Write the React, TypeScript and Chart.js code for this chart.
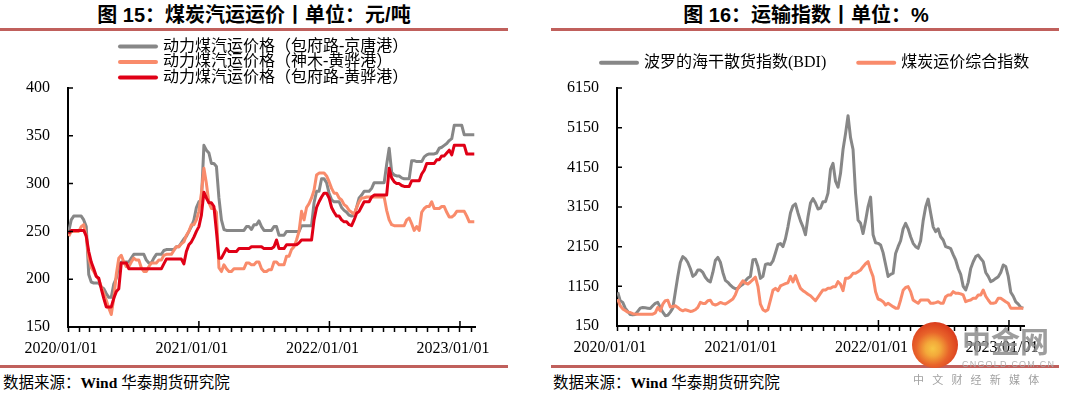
import React, { useEffect, useRef } from 'react';
import { Chart, registerables } from 'chart.js';

Chart.register(...registerables);

// ---------- data ----------
const FIRST_WEEK = '2020-01-03';
const AXIS_START = '2020-01-01';
const AXIS_END = '2023-02-12';
const YEAR_LABELS = ['2020/01/01', '2021/01/01', '2022/01/01', '2023/01/01'];

const COAL_SERIES_NAMES = [
  '动力煤汽运价格（包府路-京唐港）',
  '动力煤汽运价格（神木-黄骅港）',
  '动力煤汽运价格（包府路-黄骅港）',
];

const baotouJingtang = [
  250, 262, 266, 266, 266, 266, 262, 255, 205, 197,
  196, 196, 196, 192, 190, 185, 181, 181, 195, 201,
  215, 218, 218, 218, 218, 222, 226, 226, 226, 226,
  226, 220, 217, 217, 222, 226, 226, 226, 230, 231,
  231, 231, 231, 234, 234, 238, 242, 245, 250, 255,
  262, 275, 281, 282, 340, 335, 332, 321, 321, 318,
  285, 262, 252, 251, 251, 251, 251, 251, 251, 251,
  251, 255, 255, 252, 257, 257, 261, 255, 251, 251,
  251, 251, 255, 255, 246, 246, 246, 250, 250, 250,
  250, 250, 250, 256, 256, 256, 256, 256, 280, 292,
  292, 305, 305, 301, 290, 283, 281, 281, 281, 275,
  272, 270, 267, 266, 267, 275, 285, 288, 292, 292,
  292, 295, 301, 301, 301, 301, 301, 320, 337, 312,
  309, 308, 308, 306, 305, 305, 305, 324, 324, 323,
  323, 323, 328, 330, 331, 331, 331, 332, 337, 338,
  340, 342, 345, 347, 361, 361, 361, 361, 351, 351,
  351, 351, 351,
];

const shenmuHuanghua = [
  245, 250, 250, 250, 250, 255, 257, 245, 222, 212,
  208, 203, 200, 192, 185, 178, 170, 163, 180, 205,
  222, 225, 218, 213, 213, 218, 222, 220, 220, 212,
  208, 208, 213, 217, 217, 217, 220, 220, 225, 226,
  226, 226, 230, 234, 234, 237, 239, 246, 250, 257,
  257, 262, 271, 290, 316, 300, 280, 274, 274, 270,
  212, 208, 215, 211, 208, 208, 211, 211, 211, 211,
  211, 217, 217, 215, 215, 218, 218, 211, 208, 208,
  210, 210, 218, 218, 215, 215, 215, 224, 224, 231,
  234, 241, 250, 271, 262, 275, 279, 285, 293, 309,
  311, 311, 311, 308, 302, 295, 290, 290, 285, 283,
  278, 276, 272, 270, 268, 275, 281, 285, 285, 286,
  286, 286, 286, 286, 286, 286, 286, 272, 262, 257,
  256, 256, 256, 256, 256, 262, 264, 258, 251, 255,
  251, 270, 274, 276, 276, 281, 274, 274, 274, 276,
  276, 270, 265, 265, 267, 271, 271, 271, 271, 266,
  260, 260, 260,
];

const baotouHuanghua = [
  248, 251, 251, 251, 251, 251, 251, 245, 229, 218,
  211, 203, 201, 190, 180, 171, 171, 171, 180, 187,
  190, 217, 217, 217, 211, 211, 211, 211, 211, 211,
  211, 211, 211, 211, 211, 211, 211, 211, 216, 221,
  221, 221, 221, 221, 221, 221, 216, 229, 236, 239,
  244, 250, 255, 267, 291, 285, 280, 280, 276, 250,
  222, 222, 227, 232, 229, 229, 229, 229, 232, 232,
  232, 232, 232, 234, 234, 234, 234, 234, 232, 232,
  232, 232, 234, 241, 232, 232, 232, 236, 236, 236,
  236, 236, 238, 241, 241, 241, 241, 241, 262, 275,
  281, 286, 290, 290, 285, 275, 270, 266, 266, 262,
  260, 260, 257, 256, 262, 269, 271, 276, 281, 281,
  281, 286, 288, 288, 288, 288, 288, 288, 316, 306,
  302, 300, 300, 298, 297, 297, 297, 303, 303, 303,
  303, 310, 314, 321, 321, 321, 321, 325, 325, 329,
  329, 332, 335, 330, 340, 340, 340, 340, 340, 331,
  331, 331, 331,
];

const COAL_Y_TICKS = [150, 200, 250, 300, 350, 400];

const INDEX_SERIES_NAMES = ['波罗的海干散货指数(BDI)', '煤炭运价综合指数'];

const bdi = [
  1000, 790, 745, 600, 520, 440, 430, 440, 520, 600,
  618, 610, 600, 590, 660, 720, 745, 620, 500, 410,
  420, 500, 600, 1000, 1400, 1750, 1900, 1850, 1750, 1600,
  1400, 1450, 1560, 1560, 1500, 1380, 1300, 1260, 1500, 1800,
  1880, 1760, 1500, 1300, 1250, 1180, 1124, 1090, 1100, 1160,
  1200, 1290, 1360, 1400, 1820, 1830, 1650, 1350, 1400, 1700,
  1720, 1700, 1790, 1990, 2200, 2230, 2150, 2350, 2650, 3000,
  3180, 3230, 3000, 2800, 2650, 2450, 2900, 3250, 3360, 3250,
  3100, 3120, 3285, 3285, 3500, 4100, 4250, 3800, 3650, 4000,
  4600, 5000, 5450, 4900, 4600, 3500, 2820, 2740, 2480, 2800,
  3160, 3400, 2450, 2250, 2234, 2190, 2000, 1700, 1400, 1450,
  1480, 1980, 2150, 2300, 2600, 2740, 2600, 2400, 2234, 2150,
  2108, 2300, 2800, 3150, 3350, 3000, 2650, 2530, 2600, 2400,
  2318, 2150, 2130, 2100, 1950, 1814, 1600, 1450, 1150, 1060,
  1250, 1600, 1770, 1900, 1940, 1850, 1772, 1500, 1400, 1268,
  1300, 1350, 1394, 1500, 1688, 1650, 1400, 1000, 900, 760,
  700, 620, 600,
];

const coalFreightIndex = [
  830, 660, 580, 540, 500, 490, 460, 449, 449, 449,
  449, 449, 449, 449, 449, 480, 618, 530, 700, 790,
  800, 630, 640, 660, 618, 560, 533, 560, 540, 517,
  530, 560, 620, 745, 720, 720, 787, 800, 700, 680,
  703, 745, 720, 703, 745, 787, 830, 940, 1100, 1200,
  1290, 1230, 1210, 1260, 1320, 1380, 1150, 700, 560, 520,
  560, 800, 1050, 1100, 1040, 1160, 1190, 1220, 1240, 1400,
  1260, 1420, 1250, 1100, 1040, 998, 950, 913, 850, 790,
  880, 970, 1058, 1058, 1100, 1100, 1142, 1142, 1268, 1200,
  1040, 1352, 1352, 1394, 1478, 1478, 1520, 1562, 1646, 1720,
  1772, 1560, 1394, 1016, 830, 806, 764, 680, 722, 680,
  638, 600, 596, 806, 1050, 1120, 1142, 1016, 806, 760,
  722, 806, 806, 806, 806, 722, 722, 740, 760, 722,
  722, 890, 932, 932, 1016, 974, 974, 960, 932, 764,
  790, 806, 848, 848, 932, 932, 1058, 900, 806, 722,
  722, 740, 848, 848, 806, 760, 722, 600, 596, 596,
  596, 596, 596,
];

const INDEX_Y_TICKS = [150, 1150, 2150, 3150, 4150, 5150, 6150];

// ---------- helpers ----------
const DAY_MS = 86400000;
const toDay = (s: string) => {
  const [y, m, d] = s.split(/[-\/]/).map(Number);
  return (Date.UTC(y, m - 1, d) - Date.UTC(2020, 0, 1)) / DAY_MS;
};
const weekX = (i: number) => toDay(FIRST_WEEK) + 7 * i;
const yearDays = YEAR_LABELS.map(toDay);
const monthTicks: number[] = (() => {
  const out: number[] = [];
  const end = toDay(AXIS_END);
  for (let y = 2020; y <= 2023; y++) {
    for (let m = 0; m < 12; m++) {
      const d = (Date.UTC(y, m, 1) - Date.UTC(2020, 0, 1)) / DAY_MS;
      if (d <= end) out.push(d);
    }
  }
  return out;
})();

const toPoints = (vals: number[]) => vals.map((v, i) => ({ x: weekX(i), y: v }));

const GRAY = '#878787';
const SALMON = '#F98B6B';
const RED = '#E00016';

const tickFont = { family: '"Liberation Serif", "Times New Roman", serif', size: 16 };
const legendFont = '16px "Liberation Serif", "Noto Sans CJK SC", serif';

const axisMarks = {
  id: 'axisMarks',
  afterDatasetsDraw(chart: any) {
    const { ctx, chartArea, scales } = chart;
    const xs = scales.x;
    const ys = scales.y;
    ctx.save();
    ctx.strokeStyle = '#000';
    ctx.lineWidth = 1.5;
    ctx.beginPath();
    yearDays.forEach((d) => {
      if (d < xs.min || d > xs.max) return;
      const px = xs.getPixelForValue(d);
      ctx.moveTo(px, chartArea.bottom);
      ctx.lineTo(px, chartArea.bottom - 6);
    });
    ys.ticks.forEach((t: any) => {
      const py = ys.getPixelForValue(t.value);
      ctx.moveTo(chartArea.left, py);
      ctx.lineTo(chartArea.left + 5, py);
    });
    ctx.stroke();
    ctx.restore();
  },
};

const lineLegend = {
  id: 'lineLegend',
  afterDraw(chart: any, _args: any, opts: any) {
    const { ctx } = chart;
    let x = opts.x;
    let y = opts.y;
    ctx.save();
    ctx.font = legendFont;
    ctx.textBaseline = 'middle';
    chart.data.datasets.forEach((ds: any) => {
      ctx.strokeStyle = ds.borderColor;
      ctx.lineWidth = 4;
      ctx.lineCap = 'round';
      ctx.beginPath();
      ctx.moveTo(x + 2, y);
      ctx.lineTo(x + 38, y);
      ctx.stroke();
      ctx.fillStyle = '#000';
      ctx.fillText(ds.label, x + 45, y);
      const w = ctx.measureText(ds.label).width;
      if (opts.row) x += 45 + w + opts.itemGap;
      else y += opts.rowGap;
    });
    ctx.restore();
  },
};

function xScale(axisHeight: number) {
  return {
    type: 'linear',
    min: toDay(AXIS_START),
    max: toDay(AXIS_END),
    afterBuildTicks: (s: any) => {
      s.ticks = monthTicks.map((v) => ({ value: v }));
    },
    afterFit: (s: any) => {
      s.height = axisHeight;
    },
    ticks: {
      autoSkip: false,
      maxRotation: 0,
      minRotation: 0,
      labelOffset: -7,
      padding: 7,
      color: '#000',
      font: tickFont,
      callback: (v: any) => {
        const i = yearDays.indexOf(Number(v));
        return i >= 0 ? YEAR_LABELS[i] : '';
      },
    },
    grid: {
      display: true,
      drawOnChartArea: false,
      drawTicks: true,
      tickLength: 5,
      tickWidth: 1.5,
      tickColor: '#000',
    },
    border: { display: true, color: '#000', width: 2 },
  };
}

function yScale(ticks: number[], axisWidth: number) {
  return {
    type: 'linear',
    min: ticks[0],
    max: ticks[ticks.length - 1],
    afterBuildTicks: (s: any) => {
      s.ticks = ticks.map((v) => ({ value: v }));
    },
    afterFit: (s: any) => {
      s.width = axisWidth;
    },
    ticks: {
      padding: 18,
      color: '#000',
      font: tickFont,
      callback: (v: any) => String(v),
    },
    grid: { display: false, drawTicks: false },
    border: { display: true, color: '#000', width: 2 },
  };
}

function lineDs(label: string, vals: number[], color: string, order: number) {
  return {
    label,
    data: toPoints(vals),
    borderColor: color,
    backgroundColor: color,
    borderWidth: 3,
    pointRadius: 0,
    tension: 0,
    fill: false,
    borderJoinStyle: 'round',
    order,
  };
}

function coalConfig(): any {
  return {
    type: 'line',
    data: {
      datasets: [
        lineDs(COAL_SERIES_NAMES[0], baotouJingtang, GRAY, 2),
        lineDs(COAL_SERIES_NAMES[1], shenmuHuanghua, SALMON, 1),
        lineDs(COAL_SERIES_NAMES[2], baotouHuanghua, RED, 0),
      ],
    },
    options: {
      animation: false,
      responsive: false,
      layout: { padding: { top: 56, right: 33, left: 0, bottom: 0 } },
      plugins: {
        legend: { display: false },
        tooltip: { enabled: false },
        lineLegend: { x: 118, y: 14.5, rowGap: 15.5, row: false },
      },
      scales: { x: xScale(35), y: yScale(COAL_Y_TICKS, 68) },
    },
    plugins: [axisMarks, lineLegend],
  };
}

function indexConfig(): any {
  return {
    type: 'line',
    data: {
      datasets: [
        lineDs(INDEX_SERIES_NAMES[0], bdi, GRAY, 1),
        lineDs(INDEX_SERIES_NAMES[1], coalFreightIndex, SALMON, 0),
      ],
    },
    options: {
      animation: false,
      responsive: false,
      layout: { padding: { top: 56, right: 46, left: 0, bottom: 0 } },
      plugins: {
        legend: { display: false },
        tooltip: { enabled: false },
        lineLegend: { x: 59, y: 30.7, row: true, itemGap: 30 },
      },
      scales: { x: xScale(36), y: yScale(INDEX_Y_TICKS, 77) },
    },
    plugins: [axisMarks, lineLegend],
  };
}

// ---------- layout ----------
const RULE_COLOR = '#C0605C';

const titleStyle = (left: number, width: number): React.CSSProperties => ({
  position: 'absolute',
  left,
  top: 3,
  width,
  textAlign: 'center',
  fontFamily: '"Liberation Sans", "Noto Sans CJK SC", sans-serif',
  fontWeight: 700,
  fontSize: 20,
  lineHeight: '24px',
  color: '#000',
  whiteSpace: 'nowrap',
});

const ruleStyle = (left: number, top: number, width: number): React.CSSProperties => ({
  position: 'absolute',
  left,
  top,
  width,
  height: 3,
  background: RULE_COLOR,
});

const footerStyle = (left: number): React.CSSProperties => ({
  position: 'absolute',
  left,
  top: 374,
  fontFamily: '"Liberation Serif", "Noto Sans CJK SC", serif',
  fontSize: 15.5,
  lineHeight: '18px',
  color: '#000',
  whiteSpace: 'nowrap',
});

export default function App() {
  const leftRef = useRef<HTMLCanvasElement>(null);
  const rightRef = useRef<HTMLCanvasElement>(null);

  useEffect(() => {
    const c1 = new Chart(leftRef.current as HTMLCanvasElement, coalConfig());
    const c2 = new Chart(rightRef.current as HTMLCanvasElement, indexConfig());
    return () => {
      c1.destroy();
      c2.destroy();
    };
  }, []);

  return (
    <div
      style={{
        position: 'absolute',
        left: 0,
        top: 0,
        width: 1079,
        height: 397,
        background: '#fff',
        overflow: 'hidden',
      }}
    >
      <div style={titleStyle(0, 508)}>图 15：煤炭汽运运价丨单位：元/吨</div>
      <div style={ruleStyle(0, 28, 508)} />
      <canvas
        ref={leftRef}
        width={508}
        height={330}
        style={{ position: 'absolute', left: 0, top: 32, width: 508, height: 330 }}
      />
      <div style={ruleStyle(0, 365, 508)} />
      <div style={footerStyle(3)}>
        数据来源：<b style={{ fontFamily: '"Liberation Serif", serif' }}>Wind</b> 华泰期货研究院
      </div>

      <div style={titleStyle(551, 510)}>图 16：运输指数丨单位：%</div>
      <div style={ruleStyle(551, 28, 508)} />
      <canvas
        ref={rightRef}
        width={530}
        height={330}
        style={{ position: 'absolute', left: 540, top: 32, width: 530, height: 330 }}
      />
      <div style={ruleStyle(551, 365, 508)} />
      <div style={footerStyle(553)}>
        数据来源：<b style={{ fontFamily: '"Liberation Serif", serif' }}>Wind</b> 华泰期货研究院
      </div>

      {/* watermark */}
      <div
        style={{
          position: 'absolute',
          left: 912,
          top: 322,
          width: 46,
          height: 46,
          borderRadius: '50%',
          background:
            'radial-gradient(circle at 45% 58%, #F7C544 0%, #F3A93A 20%, #E8632A 45%, #D9391C 75%, #C92A18 100%)',
        }}
      />
      <div
        style={{
          position: 'absolute',
          left: 962,
          top: 325,
          fontFamily: '"Noto Sans CJK SC", sans-serif',
          fontWeight: 700,
          fontSize: 29,
          lineHeight: '30px',
          color: 'rgba(140,140,140,0.85)',
          whiteSpace: 'nowrap',
        }}
      >
        中金网
      </div>
      <div
        style={{
          position: 'absolute',
          left: 962,
          top: 359,
          fontFamily: '"Liberation Sans", sans-serif',
          fontSize: 9,
          lineHeight: '10px',
          letterSpacing: 1.2,
          color: 'rgba(170,170,170,0.9)',
          whiteSpace: 'nowrap',
        }}
      >
        CNGOLD.COM.CN
      </div>
      <div
        style={{
          position: 'absolute',
          left: 913,
          top: 372,
          fontFamily: '"Noto Sans CJK SC", sans-serif',
          fontSize: 11,
          lineHeight: '14px',
          letterSpacing: 8.2,
          color: 'rgba(150,150,150,0.9)',
          whiteSpace: 'nowrap',
        }}
      >
        中文财经新媒体
      </div>
    </div>
  );
}
